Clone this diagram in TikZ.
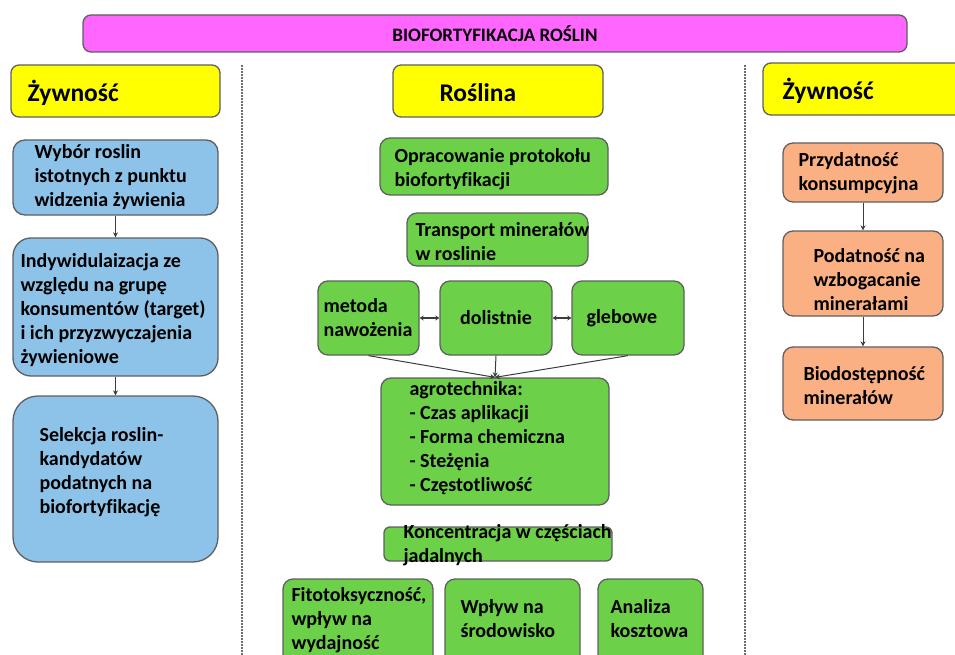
\documentclass[tikz,border=0pt]{standalone}
\usepackage{fontspec}
\setmainfont{Carlito}[Ligatures=NoCommon]
\usetikzlibrary{arrows.meta}

\definecolor{pinkfill}{RGB}{255,102,255}
\definecolor{yellowfill}{RGB}{255,255,0}
\definecolor{bluefill}{RGB}{141,195,232}
\definecolor{greenfill}{RGB}{108,208,72}
\definecolor{orangefill}{RGB}{250,176,130}
\definecolor{edgegray}{RGB}{95,95,95}
\definecolor{linegray}{RGB}{60,60,60}
\definecolor{sepgray}{RGB}{110,110,110}

\begin{document}
\begin{tikzpicture}[x=1pt,y=-1pt,
  box/.style={draw=edgegray, line width=1.3pt, inner sep=0pt},
  headbox/.style={box, fill=yellowfill, rounded corners=8pt, minimum height=52pt},
  bluebox/.style={box, fill=bluefill, minimum width=205pt},
  greenbox/.style={box, fill=greenfill, rounded corners=10pt},
  orangebox/.style={box, fill=orangefill, rounded corners=10pt, minimum width=160pt},
  txt/.style={inner sep=0pt, align=left, anchor=west, font=\bfseries\fontsize{20}{24}\selectfont},
  headtxt/.style={inner sep=0pt, anchor=west, font=\bfseries\fontsize{25.5}{28}\selectfont},
  flow/.style={draw=linegray, line width=1pt, -{Stealth[length=5pt,width=5pt]}},
  twoway/.style={draw=linegray, line width=1.4pt, {Stealth[length=4pt,width=5pt]}-{Stealth[length=4pt,width=5pt]}},
  separator/.style={draw=sepgray, line width=1.2pt, dash pattern=on 2pt off 1pt}
]
\useasboundingbox (0,0) rectangle (955,655);

% column separators
\draw[separator] (242,65) -- (242,655);
\draw[separator] (745,65) -- (745,655);

% title bar
\node[box, fill=pinkfill, rounded corners=8pt, minimum width=824pt, minimum height=37pt,
      font=\bfseries\fontsize{19}{20}\selectfont] (title) at (495,33.5) {BIOFORTYFIKACJA ROŚLIN};

% column headers
\node[headbox, minimum width=209pt] (hleft) at (115.5,91) {};
\node[headtxt] (hleft-t) at ([xshift=17pt,yshift=-2pt]hleft.west) {Żywność};
\node[headbox, minimum width=210pt] (hmid) at (498,91) {};
\node[headtxt] (hmid-t) at ([xshift=47pt,yshift=-2pt]hmid.west) {Roślina};
\node[headbox, minimum width=200pt, minimum height=52pt] (hright) at (863,89) {};
\node[headtxt] (hright-t) at ([xshift=20pt,yshift=-2pt]hright.west) {Żywność};

% left column: food
\node[bluebox, rounded corners=12pt, minimum height=75pt] (b1) at (115.5,177.5) {};
\node[txt] (b1-t) at ([xshift=22pt]b1.west) {Wybór roslin\\istotnych z punktu\\widzenia żywienia};
\node[bluebox, rounded corners=18pt, minimum height=138pt] (b2) at (115.5,307) {};
\node[txt] (b2-t) at ([xshift=8pt,yshift=-3pt]b2.west) {Indywidulaizacja ze\\względu na grupę\\konsumentów (target)\\i ich przyzwyczajenia\\żywieniowe};
\node[bluebox, rounded corners=25pt, minimum height=166pt] (b3) at (115.5,479) {};
\node[txt] (b3-t) at ([xshift=27pt,yshift=7pt]b3.west) {Selekcja roslin-\\kandydatów\\podatnych na\\biofortyfikację};
\draw[flow] (b1.south) -- (b2.north);
\draw[flow] (b2.south) -- (b3.north);

% middle column: plant
\node[greenbox, minimum width=228pt, minimum height=57pt] (g1) at (494,166.5) {};
\node[txt] (g1-t) at ([xshift=15pt,yshift=-3pt]g1.west) {Opracowanie protokołu\\biofortyfikacji};
\node[greenbox, minimum width=181pt, minimum height=53pt] (g2) at (497.5,239.5) {};
\node[txt] (g2-t) at ([xshift=9pt,yshift=-2pt]g2.west) {Transport minerałów\\w roslinie};

\node[greenbox, minimum width=101pt, minimum height=74pt] (m1) at (368.5,318) {};
\node[txt] (m1-t) at ([xshift=6pt]m1.west) {metoda\\nawożenia};
\node[greenbox, minimum width=112pt, minimum height=74pt,
      font=\bfseries\fontsize{20}{24}\selectfont] (m2) at (496,318) {dolistnie};
\node[greenbox, minimum width=112pt, minimum height=74pt] (m3) at (628,318) {};
\node[txt] (m3-t) at ([xshift=15pt]m3.west) {glebowe};
\draw[twoway] (m1.east) -- (m2.west);
\draw[twoway] (m2.east) -- (m3.west);

\node[greenbox, minimum width=228pt, minimum height=127pt] (agro) at (495,441.5) {};
\node[txt] (agro-t) at ([xshift=29pt,yshift=3pt]agro.west) {agrotechnika:\\- Czas aplikacji\\- Forma chemiczna\\- Steżęnia\\- Częstotliwość};
\draw[flow] (m1.south) -- (agro.north);
\draw[flow] (m2.south) -- (agro.north);
\draw[flow] (m3.south) -- (agro.north);

\node[greenbox, rounded corners=6pt, minimum width=228pt, minimum height=34pt] (kon) at (498,544) {};
\node[txt] (kon-t) at ([xshift=20pt,yshift=-1pt]kon.west) {Koncentracja w częściach\\jadalnych};

\node[greenbox, minimum width=150pt, minimum height=91pt] (f1) at (358,624.5) {};
\node[txt] (f1-t) at ([xshift=9pt,yshift=4pt]f1.west) {Fitotoksyczność,\\wpływ na\\wydajność};
\node[greenbox, minimum width=135pt, minimum height=91pt] (f2) at (512.5,624.5) {};
\node[txt] (f2-t) at ([xshift=16pt,yshift=6pt]f2.west) {Wpływ na\\środowisko};
\node[greenbox, minimum width=105pt, minimum height=91pt] (f3) at (650.5,624.5) {};
\node[txt] (f3-t) at ([xshift=13pt,yshift=6pt]f3.west) {Analiza\\kosztowa};

% right column: food
\node[orangebox, minimum height=59pt] (o1) at (863,172.5) {};
\node[txt] (o1-t) at ([xshift=16pt,yshift=-1pt]o1.west) {Przydatność\\konsumpcyjna};
\node[orangebox, minimum height=85pt] (o2) at (863,273.5) {};
\node[txt] (o2-t) at ([xshift=31pt,yshift=-6pt]o2.west) {Podatność na\\wzbogacanie\\minerałami};
\node[orangebox, minimum height=73pt] (o3) at (863,383.5) {};
\node[txt] (o3-t) at ([xshift=21pt,yshift=-2pt]o3.west) {Biodostępność\\minerałów};
\draw[flow] (o1.south) -- (o2.north);
\draw[flow] (o2.south) -- (o3.north);
\end{tikzpicture}
\end{document}
